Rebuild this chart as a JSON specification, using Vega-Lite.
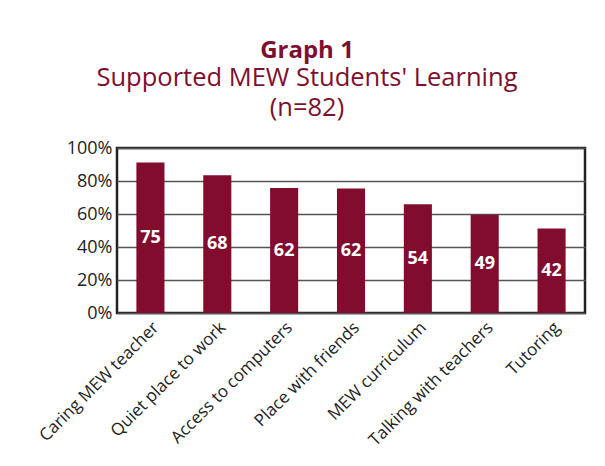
{
  "$schema": "https://vega.github.io/schema/vega-lite/v6.json",
  "width": 468,
  "height": 165,
  "autosize": "none",
  "padding": {"left": 117, "top": 148, "right": 20, "bottom": 153},
  "background": "white",
  "title": {
    "text": "Graph 1",
    "subtitle": ["Supported MEW Students' Learning", "(n=82)"],
    "font": "Open Sans",
    "fontSize": 24,
    "fontWeight": "bold",
    "color": "#7d0f2f",
    "subtitleFont": "Open Sans",
    "subtitleFontSize": 25.5,
    "subtitleColor": "#7d0f2f",
    "subtitleLineHeight": 30,
    "subtitlePadding": 3,
    "anchor": "middle",
    "dx": -44,
    "offset": 18
  },
  "data": {
    "values": [
      {"item": "Caring MEW teacher", "pct": 91.2, "n": 75},
      {"item": "Quiet place to work", "pct": 83.5, "n": 68},
      {"item": "Access to computers", "pct": 75.7, "n": 62},
      {"item": "Place with friends", "pct": 75.4, "n": 62},
      {"item": "MEW curriculum", "pct": 65.9, "n": 54},
      {"item": "Talking with teachers", "pct": 59.6, "n": 49},
      {"item": "Tutoring", "pct": 51.2, "n": 42}
    ]
  },
  "encoding": {
    "x": {
      "field": "item",
      "type": "nominal",
      "sort": null,
      "scale": {"paddingInner": 0.58, "paddingOuter": 0.29},
      "axis": {
        "title": null,
        "labelAngle": -45,
        "ticks": false,
        "domain": false,
        "labelFont": "Open Sans",
        "labelFontSize": 17,
        "labelColor": "#222",
        "labelPadding": 6
      }
    }
  },
  "layer": [
    {
      "mark": {"type": "bar", "color": "#820c2e"},
      "encoding": {
        "y": {
          "field": "pct",
          "type": "quantitative",
          "scale": {"domain": [0, 100], "nice": false},
          "axis": {"title": null, "values": [0, 20, 40, 60, 80, 100], "tickCount": 6}
        }
      }
    },
    {
      "transform": [{"calculate": "datum.pct / 2", "as": "mid"}],
      "mark": {"type": "text", "color": "white", "font": "Open Sans", "fontSize": 18, "fontWeight": "bold", "baseline": "middle"},
      "encoding": {
        "y": {
          "field": "mid",
          "type": "quantitative",
          "axis": {"title": null, "values": [0, 20, 40, 60, 80, 100], "tickCount": 6}
        },
        "text": {"field": "n"}
      }
    }
  ],
  "config": {
    "view": {"stroke": "#222", "strokeWidth": 2.5},
    "axisY": {
      "labelExpr": "datum.value + '%'",
      "labelOverlap": false,
      "labelFlush": false,
      "ticks": false,
      "domain": false,
      "labelFont": "Open Sans",
      "labelFontSize": 18,
      "labelColor": "#222",
      "labelPadding": 5,
      "gridColor": "#555",
      "gridWidth": 1.5,
      "gridOpacity": 1
    }
  }
}
